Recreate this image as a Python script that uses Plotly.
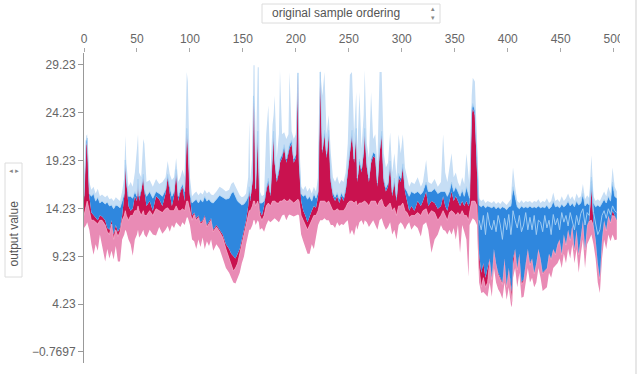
import plotly.graph_objects as go

# sample index of each reading
samples = [0,2,3,5,7,9,11,13,15,17,20,22,24,26,28,30,32,34,36,38,39,40,42,44,46,48,50,51,52,54,56,57,59,62,65,68,71,74,77,79,81,83,85,87,89,91,93,95,97,98,100,102,
           104,106,108,110,112,114,116,118,120,122,125,128,131,134,137,139,141,143,145,147,149,151,153,155,156,157,159,160,161,162,164,165,166,168,170,
           172,174,176,178,179,180,182,184,185,187,189,191,193,194,196,198,200,202,203,205,207,209,211,213,215,217,219,221,223,225,227,229,231,233,235,237,239,241,243,245,247,249,251,253,255,
           257,258,260,262,264,265,267,269,271,273,275,277,279,281,283,285,287,289,291,293,295,297,299,301,303,305,307,309,312,315,318,320,323,325,328,331,334,337,339,
           341,343,345,347,349,351,353,355,357,359,361,363,364,366,367,369,371,
           373,375,377,379,381,383,385,387,389,391,393,395,397,399,401,403,404,405,407,409,411,413,415,417,419,421,
           423,425,427,429,431,433,435,437,439,441,443,445,447,449,451,453,455,457,459,461,463,465,467,469,471,473,475,477,479,481,483,485,487,489,491,493,495,497,499,501,503]

# upper edge of the light-blue (negative) features
top = [17.5,21.8,22.0,17.0,16.2,16.5,15.8,16.3,15.5,15.7,15.4,15.6,15.2,15.3,15.0,15.4,15.2,15.0,16.0,17.5,21.8,19.0,16.5,17.0,16.5,18.0,20.5,22.0,18.0,17.5,21.5,21.0,17.0,17.2,16.5,17.3,16.8,17.0,17.5,19.2,17.8,17.2,17.5,19.5,17.0,17.5,18.3,17.5,28.5,27.5,17.5,15.5,
       15.8,16.0,15.6,15.9,15.7,16.2,15.8,16.0,15.7,15.6,16.0,16.5,16.3,16.0,16.2,16.8,17.0,16.5,16.0,15.6,15.4,15.5,15.8,17.5,23.4,17.0,20.0,29.2,29.2,18.0,29.0,29.0,16.0,15.5,15.7,
       22.0,25.0,18.0,23.0,24.0,26.0,19.5,22.0,28.7,22.0,22.2,21.5,22.0,28.5,22.3,21.5,22.0,28.6,22.0,16.5,16.2,16.6,16.0,16.4,15.8,16.5,16.0,17.5,28.7,26.0,28.5,22.0,24.0,20.0,17.5,17.0,17.6,16.8,17.2,17.0,18.0,21.0,28.2,28.5,22.0,
       26.4,20.0,26.4,20.5,24.0,28.7,21.0,19.5,26.4,21.5,22.0,19.0,28.5,28.5,20.0,18.5,19.0,22.2,18.0,20.0,17.5,22.0,20.0,22.0,18.5,17.3,16.5,17.0,16.8,17.5,16.5,17.0,19.3,17.0,16.8,17.3,16.5,17.0,22.0,
       18.0,17.0,18.5,20.0,17.5,18.0,17.0,16.5,17.5,16.8,20.0,17.0,16.5,26.0,27.9,27.5,22.0,
       15.3,15.0,15.2,14.8,15.0,14.9,14.8,15.0,14.7,14.9,14.7,15.0,14.8,14.6,14.9,15.2,17.0,18.5,16.5,15.0,14.8,15.1,14.8,15.0,14.9,15.0,
       14.8,15.0,14.9,15.2,14.8,15.0,14.9,15.3,14.8,15.0,15.9,15.0,15.2,14.9,15.5,15.0,15.3,15.8,15.2,15.5,15.0,15.8,15.3,15.5,16.8,15.2,15.6,15.3,19.8,15.5,15.0,15.2,15.0,15.5,16.0,15.5,16.5,15.8,18.5,16.5,16.0]

# boundary between dark-blue and light-blue features
blue_split = [15.5,21.3,21.6,15.8,15.5,15.8,15.0,15.4,14.8,15.0,14.7,14.9,14.5,14.6,14.2,14.6,14.5,14.3,15.0,15.8,19.3,17.3,15.5,15.5,15.3,16.0,15.5,17.3,15.5,16.3,17.8,16.3,15.5,16.0,15.3,16.0,15.8,15.5,16.2,17.8,16.5,15.5,16.0,18.3,15.5,16.3,16.8,16.0,22.6,21.3,15.8,14.8,
              15.0,15.2,14.8,15.2,14.9,15.5,15.0,15.2,14.9,14.8,15.2,15.6,15.4,15.2,15.3,15.8,16.0,15.5,15.0,14.8,14.6,14.7,15.0,15.5,16.5,15.5,17.3,26.0,24.3,16.3,22.3,18.3,14.8,14.8,15.0,
              16.4,17.4,15.9,20.4,22.3,19.4,17.4,18.4,19.4,19.9,20.9,19.4,20.4,20.9,21.4,19.4,19.9,28.4,19.4,15.8,15.5,15.7,15.2,15.5,15.0,15.8,15.3,16.0,28.5,20.4,22.4,19.9,22.4,17.4,15.9,15.4,15.9,15.2,15.9,15.4,16.4,18.4,20.4,22.4,19.4,
              22.6,17.4,19.4,18.4,20.4,22.6,18.9,17.4,19.4,20.1,19.9,16.9,20.4,22.3,17.4,16.4,16.9,19.2,15.9,17.4,15.4,17.9,17.4,18.9,16.4,16.0,15.5,16.0,15.8,16.0,15.7,16.0,17.0,16.0,16.0,16.3,15.8,16.0,16.0,
              16.0,15.5,16.0,17.0,16.0,16.5,16.0,15.5,16.2,15.5,16.5,15.5,15.3,24.5,25.2,24.5,18.5,
              14.6,14.4,14.6,14.3,14.5,14.4,14.3,14.5,14.2,14.4,14.2,14.4,14.3,14.1,14.4,14.5,15.5,16.5,15.5,14.4,14.2,14.5,14.3,14.4,14.3,14.5,
              14.3,14.4,14.3,14.5,14.3,14.4,14.3,14.6,14.2,14.4,15.0,14.4,14.5,14.3,14.7,14.4,14.6,15.0,14.5,14.8,14.4,15.0,14.6,14.8,15.8,14.5,14.8,14.6,17.5,14.8,14.4,14.6,14.4,14.8,15.2,14.8,15.5,15.0,17.0,15.5,15.3]

# model output (red below, blue above)
output = [15.0,20.8,21.2,15.5,13.8,13.5,13.2,13.0,13.5,13.4,13.0,12.2,12.0,13.0,11.5,12.5,11.8,12.2,13.5,15.5,19.0,17.0,14.5,14.0,14.2,15.5,15.0,17.0,15.0,16.0,17.5,16.0,14.5,15.0,14.0,15.5,15.2,14.5,15.8,17.5,15.8,14.5,15.5,18.0,15.0,16.0,16.5,15.0,22.3,21.0,15.5,13.5,
          13.8,13.2,13.5,12.8,13.0,13.5,12.5,12.8,13.2,12.0,12.5,12.0,11.5,10.5,10.0,9.5,9.2,9.0,9.5,10.0,11.0,12.0,13.0,14.5,16.0,15.0,17.0,25.7,24.0,16.0,22.0,18.0,14.0,13.5,14.5,
          16.0,17.0,15.5,20.0,21.9,19.0,17.0,18.0,19.0,19.5,20.5,19.0,20.0,20.5,21.0,19.0,19.5,28.2,19.0,15.0,14.0,13.5,12.8,13.5,14.0,14.5,14.3,15.5,28.4,20.0,22.0,19.5,22.0,17.0,15.5,15.0,15.5,14.8,15.5,15.0,16.0,18.0,20.0,22.0,19.0,
          22.2,17.0,19.0,18.0,20.0,22.2,18.5,17.0,19.0,19.7,19.5,16.5,20.0,21.9,17.0,16.0,16.5,18.8,15.5,17.0,15.0,17.5,17.0,18.5,16.0,15.0,14.0,14.5,14.0,15.0,14.5,15.0,16.0,14.5,15.0,14.8,14.2,14.5,15.5,
          14.5,14.0,15.0,16.0,15.0,15.5,15.0,14.5,15.0,14.5,15.0,14.5,14.8,24.0,24.7,24.0,18.0,
          9.5,7.5,8.5,7.0,8.0,9.0,7.0,10.0,8.5,7.5,7.0,6.5,9.0,6.2,8.0,6.0,5.5,9.0,10.0,8.0,9.5,6.5,6.8,8.5,10.0,8.5,
          9.0,7.5,8.5,10.0,9.0,7.5,7.8,8.0,9.5,9.0,10.0,9.5,10.5,11.0,9.5,11.5,10.5,12.0,11.0,12.5,10.0,12.0,9.5,11.5,13.0,10.0,12.5,13.0,16.5,12.5,11.0,8.5,7.0,11.0,13.0,12.0,13.5,12.8,14.0,13.5,13.0]

# boundary between crimson and pink features
red_split = [13.5,14.5,15.0,14.0,13.0,13.0,12.8,12.6,13.0,13.0,12.5,11.8,11.5,12.6,11.0,12.0,11.3,11.8,13.0,13.5,14.0,13.5,13.0,13.5,13.5,14.0,14.0,14.5,14.0,13.5,14.0,13.5,13.5,14.0,13.5,14.2,14.0,13.8,14.2,14.3,14.0,14.0,14.0,14.5,14.0,14.0,14.2,14.0,15.0,15.0,14.0,13.0,
             13.6,13.0,13.3,12.6,12.8,13.3,12.3,12.6,13.0,11.8,12.3,11.8,11.2,10.0,9.0,8.5,7.7,8.0,8.5,9.5,10.5,11.5,12.5,13.5,14.0,14.0,14.5,15.0,15.0,14.5,15.0,14.5,13.5,13.0,13.5,
             14.5,14.8,14.5,15.0,15.0,15.0,14.8,14.8,15.0,15.0,15.2,15.0,15.0,15.2,15.0,14.8,15.0,15.2,15.0,13.5,13.0,12.5,12.0,12.5,13.0,13.5,13.5,14.0,15.0,15.0,15.0,14.8,15.0,14.5,14.0,14.0,14.2,14.0,14.0,14.0,14.3,14.8,15.0,15.0,14.8,
             15.0,14.5,14.8,14.8,15.0,15.0,14.8,14.5,15.0,15.0,15.0,14.5,15.0,15.2,14.5,14.3,14.5,14.8,14.0,14.3,13.5,14.5,14.5,14.8,14.0,13.8,13.3,13.5,13.5,13.8,13.5,14.0,14.2,13.5,14.0,13.8,13.0,13.5,14.0,
             13.5,13.0,13.8,14.0,13.8,13.5,13.8,13.5,14.0,13.5,13.5,13.0,13.8,15.0,15.0,15.0,14.5,
             8.0,6.0,7.0,6.0,6.5,8.8,6.8,9.8,8.3,7.3,6.8,6.3,8.8,6.0,7.8,5.0,4.5,8.0,9.8,7.8,9.3,6.3,6.6,8.3,9.8,8.3,
             8.9,7.4,8.4,9.9,8.9,7.4,7.7,7.9,9.4,8.9,9.9,9.4,10.4,10.9,9.4,11.4,10.4,11.9,10.9,12.4,9.9,11.9,9.4,11.4,12.9,9.9,12.4,12.9,13.0,12.4,10.9,8.4,6.9,10.9,12.9,11.9,13.4,12.7,13.5,13.4,12.9]

# lower edge of the pink (positive) features
bottom = [12.2,12.5,12.8,12.0,10.5,9.4,10.5,9.8,11.5,10.2,8.7,10.0,9.0,9.8,8.9,10.3,8.7,8.7,11.0,11.5,12.0,11.8,11.0,10.5,9.3,11.0,11.5,12.0,11.2,11.5,12.0,11.5,11.2,12.0,11.5,11.4,12.3,11.6,12.0,12.4,11.8,12.5,12.2,12.8,12.5,12.3,12.8,12.5,13.3,13.3,12.5,11.0,
          10.8,10.0,11.0,10.2,11.2,10.0,10.8,10.3,11.0,9.8,10.5,10.0,9.0,8.0,7.5,7.0,6.5,6.4,7.0,7.5,8.5,9.2,10.5,11.5,12.0,12.0,12.5,13.0,13.0,12.5,13.0,12.8,12.0,12.2,11.8,
          12.5,13.0,12.8,13.0,13.0,13.2,13.0,12.8,13.0,13.5,13.6,13.0,13.5,13.6,13.5,13.4,13.5,13.6,13.5,11.5,10.8,10.2,9.5,9.5,10.5,10.0,11.5,12.5,13.0,13.0,13.2,13.0,13.0,12.5,12.5,12.2,12.8,12.4,12.6,12.5,12.8,13.0,11.5,12.0,11.4,
          12.5,12.0,12.8,13.0,12.5,13.0,12.8,12.3,12.7,13.0,12.5,12.0,13.0,13.2,12.5,12.0,12.3,12.8,11.5,12.0,11.0,12.5,12.8,12.5,12.0,12.5,12.8,12.0,12.5,12.2,11.3,12.5,12.8,12.0,9.6,11.0,11.5,12.5,12.0,
          11.9,11.5,12.0,11.5,12.2,11.0,12.5,9.6,12.5,11.8,11.0,7.1,12.5,13.0,13.2,13.0,12.5,
          6.5,5.4,5.5,5.3,5.0,6.5,5.0,8.0,6.5,5.8,5.4,4.8,6.5,4.7,6.0,4.2,3.9,7.0,8.0,6.0,7.5,4.9,5.0,6.5,8.0,6.5,
          7.0,6.0,6.5,8.0,7.0,5.6,5.8,6.0,7.5,7.0,8.0,8.2,8.5,9.0,8.0,9.5,8.5,10.0,9.0,10.5,8.5,10.0,7.5,9.5,11.0,8.0,10.5,11.0,11.5,10.5,9.0,6.5,5.4,9.0,11.0,10.0,11.5,10.8,11.5,10.9,11.0]

# separator between two blue features in the low-output stretch
inner_samples = [373,375,377,379,381,383,385,387,389,391,393,395,397,399,401,403,404,405,407,409,411,413,415,417,419,421,
                 423,425,427,429,431,433,435,437,439,441,443,445,447,449,451,453,455,457,459,461,463,465,467,469,471,473,475,477,479,481,483,485,487,489,491,493,495,497,499,501,503]
blue_inner = [13.0,12.0,13.5,11.5,13.8,12.5,12.0,13.0,11.8,13.5,12.5,11.0,13.2,12.0,13.6,11.5,12.5,14.0,13.0,12.2,13.5,11.8,12.5,13.8,12.0,13.3,
              12.0,13.5,11.5,13.0,12.8,11.8,13.5,12.2,13.0,11.5,13.6,12.5,13.2,12.0,13.8,12.8,13.5,12.4,13.8,13.0,12.0,13.5,12.5,13.7,14.2,12.5,13.8,13.5,17.0,13.8,12.8,11.5,12.0,13.5,14.0,13.2,14.2,13.6,14.5,14.0,13.8]

y_tickvals = [29.23, 24.23, 19.23, 14.23, 9.23, 4.23, -0.7697]
y_ticktext = ["29.23", "24.23", "19.23", "14.23", "9.23", "4.23", "\u22120.7697"]
x_tickvals = [0, 50, 100, 150, 200, 250, 300, 350, 400, 450, 500]

PINK = "#e98bb5"
CRIMSON = "#c9124f"
BLUE = "#2f87de"
LIGHTBLUE = "#c6def5"

fig = go.Figure()
fig.add_trace(go.Scatter(x=samples, y=bottom, mode="lines", line=dict(width=0, color=PINK),
                         showlegend=False, hoverinfo="skip"))
fig.add_trace(go.Scatter(x=samples, y=red_split, mode="lines", fill="tonexty", fillcolor=PINK,
                         line=dict(width=0.6, color="#f3b3cf"), showlegend=False, hoverinfo="skip"))
fig.add_trace(go.Scatter(x=samples, y=output, mode="lines", fill="tonexty", fillcolor=CRIMSON,
                         line=dict(width=0, color=CRIMSON), showlegend=False, hoverinfo="skip"))
fig.add_trace(go.Scatter(x=samples, y=blue_split, mode="lines", fill="tonexty", fillcolor=BLUE,
                         line=dict(width=0.8, color="#a8d0f3"), showlegend=False, hoverinfo="skip"))
fig.add_trace(go.Scatter(x=samples, y=top, mode="lines", fill="tonexty", fillcolor=LIGHTBLUE,
                         line=dict(width=0, color=LIGHTBLUE), showlegend=False, hoverinfo="skip"))
fig.add_trace(go.Scatter(x=inner_samples, y=blue_inner, mode="lines",
                         line=dict(width=1, color="#9fcbf2"), showlegend=False, hoverinfo="skip"))

L, R, T, B = 84, 20, 53, 11
W, H = 640, 374
pw, ph = W - L - R, H - T - B


def px(xp):
    return (xp - L) / pw


def py(yp):
    return (H - B - yp) / ph


font = dict(family="Liberation Sans, Arial, sans-serif", size=12, color="#666")

fig.update_layout(
    width=W, height=H,
    margin=dict(l=L, r=R, t=T, b=B),
    paper_bgcolor="white", plot_bgcolor="white",
    font=font,
    xaxis=dict(range=[0, 506], side="top", tickvals=x_tickvals, ticks="outside", ticklen=4,
               tickcolor="#aaa", showline=False, showgrid=False, zeroline=False,
               tickfont=dict(size=12, color="#666")),
    yaxis=dict(range=[-1.92, 30.48], tickvals=y_tickvals, ticktext=y_ticktext, ticks="outside",
               ticklen=5, tickcolor="#999", showline=True, linecolor="#999", linewidth=1,
               showgrid=False, zeroline=False, tickfont=dict(size=12, color="#666")),
    shapes=[
        dict(type="rect", xref="paper", yref="paper", x0=px(5), x1=px(22), y0=py(277), y1=py(163),
             line=dict(color="#dcdcdc", width=1), fillcolor="white", layer="above"),
        dict(type="rect", xref="paper", yref="paper", x0=px(262), x1=px(440), y0=py(23), y1=py(4),
             line=dict(color="#dcdcdc", width=1), fillcolor="white", layer="above"),
        dict(type="line", xref="paper", yref="paper", x0=px(636), x1=px(636), y0=py(374), y1=py(0),
             line=dict(color="#cfcfcf", width=1), layer="above"),
        dict(type="rect", xref="paper", yref="paper", x0=px(620), x1=px(635), y0=py(52), y1=py(30),
             line=dict(width=0), fillcolor="white", layer="above"),
    ],
    annotations=[
        dict(text="original sample ordering", xref="paper", yref="paper", x=px(270), y=py(13.5),
             xanchor="left", yanchor="middle", showarrow=False,
             font=dict(size=12, color="#555")),
        dict(text="\u25b4<br>\u25be", xref="paper", yref="paper", x=px(433), y=py(13.5),
             xanchor="center", yanchor="middle", showarrow=False,
             font=dict(size=7, color="#888")),
        dict(text="output value", xref="paper", yref="paper", x=px(13.5), y=py(234),
             xanchor="center", yanchor="middle", textangle=-90, showarrow=False,
             font=dict(size=12, color="#555")),
        dict(text="\u25c4\u25ba", xref="paper", yref="paper", x=px(13.5), y=py(171),
             xanchor="center", yanchor="middle", showarrow=False,
             font=dict(size=6, color="#888")),
    ],
)

fig.write_html("out.html", config={"displayModeBar": False},
               post_script="document.body.style.margin='0px';")
